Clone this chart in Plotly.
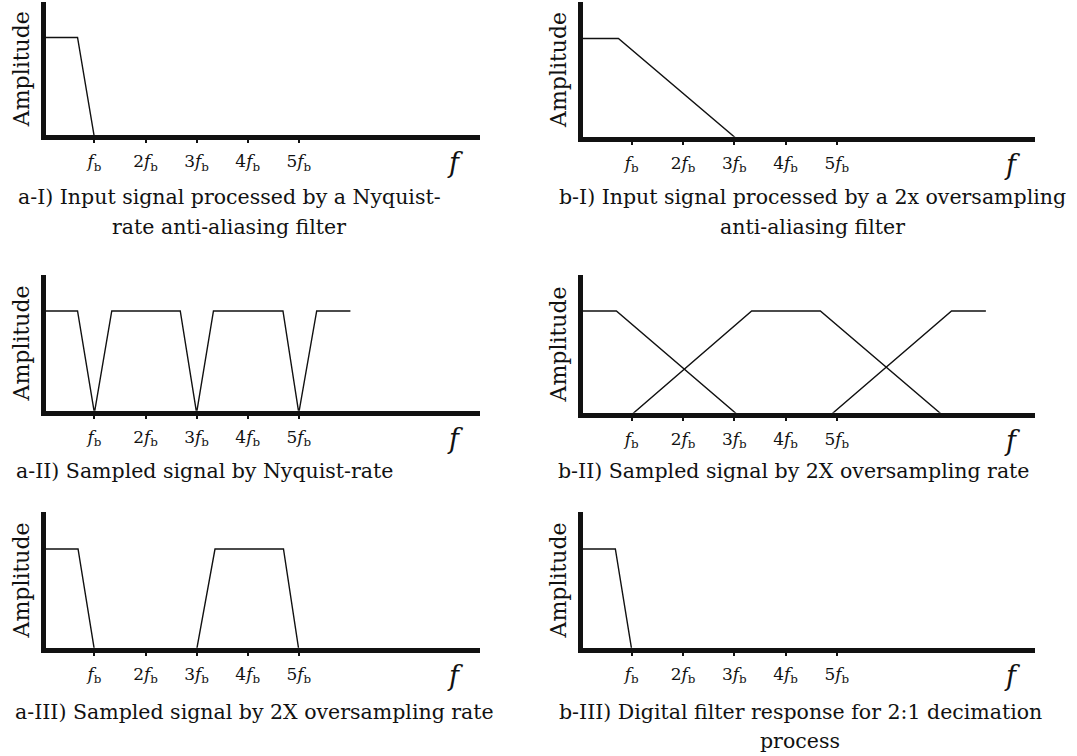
import plotly.graph_objects as go

W, H = 1077, 756
FONT = "DejaVu Serif"

# ---------------- data (x in units of fb, y = relative amplitude) ----------------
tick_vals = [1, 2, 3, 4, 5]
tick_text = ["<i>f</i><sub>b</sub>", "2<i>f</i><sub>b</sub>", "3<i>f</i><sub>b</sub>",
             "4<i>f</i><sub>b</sub>", "5<i>f</i><sub>b</sub>"]

a1_x = [0, 0.67, 1.0]
a1_y = [1, 1, 0]

b1_x = [0, 0.74, 3.05]
b1_y = [1, 1, 0]

a2_x = [0, 0.67, 1.0, 1.34, 2.68, 3.0, 3.33, 4.69, 5.0, 5.35, 6.01]
a2_y = [1, 1, 0, 1, 1, 0, 1, 1, 0, 1, 1]

b2_img1_x = [0, 0.70, 3.07]
b2_img1_y = [1, 1, 0]
b2_img2_x = [0.99, 3.34, 4.68, 7.06]
b2_img2_y = [0, 1, 1, 0]
b2_img3_x = [4.88, 7.24, 7.91]
b2_img3_y = [0, 1, 1]

a3_x = [0, 0.68, 1.0, 3.0, 3.36, 4.7, 5.0]
a3_y = [1, 1, 0, 0, 1, 1, 0]

b3_x = [0, 0.68, 1.0]
b3_y = [1, 1, 0]

captions = {
    "a1": ["a-I) Input signal processed by a Nyquist-", "rate anti-aliasing filter"],
    "b1": ["b-I) Input signal processed by a 2x oversampling", "anti-aliasing filter"],
    "a2": ["a-II) Sampled signal by Nyquist-rate"],
    "b2": ["b-II) Sampled signal by 2X oversampling rate"],
    "a3": ["a-III) Sampled signal by 2X oversampling rate"],
    "b3": ["b-III) Digital filter response for 2:1 decimation", "process"],
}

series = {
    "a1": [(a1_x, a1_y)],
    "b1": [(b1_x, b1_y)],
    "a2": [(a2_x, a2_y)],
    "b2": [(b2_img1_x, b2_img1_y), (b2_img2_x, b2_img2_y), (b2_img3_x, b2_img3_y)],
    "a3": [(a3_x, a3_y)],
    "b3": [(b3_x, b3_y)],
}

# ---------------- geometry (window pixels) ----------------
LW = 4.5
geom = {
    # axis-line centre x, px per fb, axis end x, axis top y, baseline centre y, px per amplitude
    "a1": dict(ox=43.3, sx=51.1, ex=480, top=2, base=137.5, sy=100),
    "b1": dict(ox=580.5, sx=51.25, ex=1035, top=2, base=139, sy=100.5),
    "a2": dict(ox=43.3, sx=51.1, ex=480, top=275, base=413, sy=102),
    "b2": dict(ox=580.5, sx=51.25, ex=1035, top=275, base=415, sy=104),
    "a3": dict(ox=43.3, sx=51.1, ex=480, top=512, base=650, sy=101),
    "b3": dict(ox=580.5, sx=51.25, ex=1035, top=512, base=650, sy=101),
}
f_label_x = {"a1": 8.05, "a2": 8.05, "a3": 8.05, "b1": 8.42, "b2": 8.42, "b3": 8.42}
f_label_dy = 25  # px below the baseline
caption_pos = {
    # (x px, anchor, [y px per line])
    "a1": (229, "center", [197, 227]),
    "b1": (812, "center", [197, 227]),
    "a2": (14, "left", [471]),
    "b2": (556, "left", [471]),
    "a3": (13, "left", [712]),
    "b3": (800, "center", [712, 741]),
}


def px_x(p):
    return p / W


def px_y(p):
    return 1 - p / H


order = ["a1", "b1", "a2", "b2", "a3", "b3"]

fig = go.Figure()
layout = dict(
    width=W, height=H, margin=dict(l=0, r=0, t=0, b=0), autosize=False,
    paper_bgcolor="white", plot_bgcolor="white", showlegend=False,
    font=dict(family=FONT, color="#111"),
)
annotations = []

for i, key in enumerate(order, start=1):
    g = geom[key]
    xs = "" if i == 1 else str(i)
    xname, yname = "xaxis" + xs, "yaxis" + xs
    xref, yref = "x" + xs, "y" + xs
    # data 0 sits on the centre of each (outside-drawn) axis line
    xr = [(LW / 2) / g["sx"], (g["ex"] - g["ox"]) / g["sx"]]
    yr = [(LW / 2) / g["sy"], (g["base"] - g["top"]) / g["sy"]]
    xdom = [px_x(g["ox"] + LW / 2), px_x(g["ex"])]
    ydom = [px_y(g["base"] - LW / 2), px_y(g["top"])]
    layout[xname] = dict(
        domain=xdom, range=xr, anchor=yref, showline=True, linewidth=LW, linecolor="#111",
        showgrid=False, zeroline=False, tickmode="array", tickvals=tick_vals, ticktext=tick_text,
        ticks="outside", ticklen=3, tickwidth=1.6, tickcolor="#111", ticklabelstandoff=4,
        tickfont=dict(family=FONT, size=17, color="#111"), fixedrange=True,
    )
    layout[yname] = dict(
        domain=ydom, range=yr, anchor=xref, showline=True, linewidth=LW, linecolor="#111",
        showgrid=False, zeroline=False, showticklabels=False, ticks="", fixedrange=True,
        title=dict(text="Amplitude", font=dict(family=FONT, size=22, color="#111"), standoff=7),
    )
    # overlay axis to draw the part of each tick mark above the axis line
    oi = i + 6
    layout["xaxis" + str(oi)] = dict(
        overlaying=xref, anchor=yref, range=xr, showline=False, showgrid=False, zeroline=False,
        tickmode="array", tickvals=tick_vals, ticks="inside", ticklen=3, tickwidth=1.6,
        tickcolor="#111", showticklabels=False, fixedrange=True,
    )
    for (sx_, sy_) in series[key]:
        fig.add_trace(go.Scatter(x=sx_, y=sy_, mode="lines", xaxis=xref, yaxis=yref,
                                 line=dict(color="#111", width=1.4), hoverinfo="skip"))
    annotations.append(dict(
        text="<i>f</i>", x=f_label_x[key], y=px_y(g["base"] + f_label_dy),
        xref=xref, yref="paper", showarrow=False,
        font=dict(family=FONT, size=27, color="#111"), xanchor="center", yanchor="middle",
    ))
    cx, anc, ys = caption_pos[key]
    for line, ypx in zip(captions[key], ys):
        annotations.append(dict(
            text=line, x=px_x(cx), y=px_y(ypx), xref="paper", yref="paper", showarrow=False,
            xanchor=anc, yanchor="middle", font=dict(family=FONT, size=20.5, color="#111"),
        ))

layout["annotations"] = annotations
fig.update_layout(**layout)
# remove the browser's default 8 px page margin so the figure fills the window exactly
fig.write_html("out.html", config={"displayModeBar": False},
               post_script="document.body.style.margin='0px';")
